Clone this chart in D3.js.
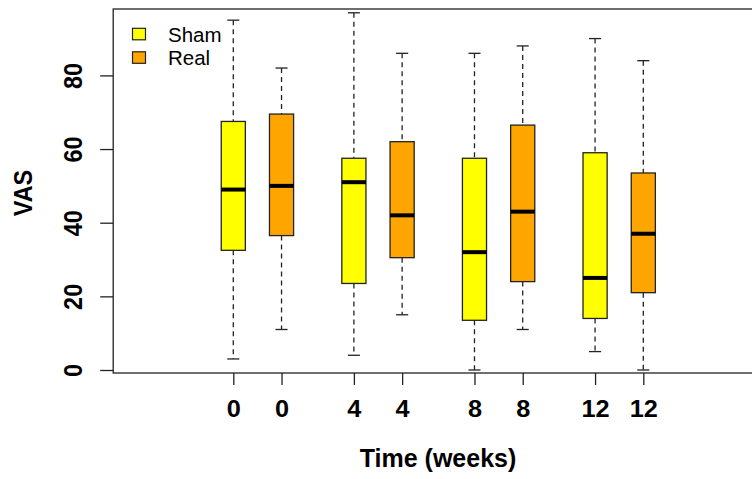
<!DOCTYPE html>
<html>
<head>
<meta charset="utf-8">
<script src="https://cdnjs.cloudflare.com/ajax/libs/d3/7.8.5/d3.min.js"></script>
<style>
  body { margin: 0; background: #fff; }
  svg { display: block; font-family: "Liberation Sans", Arial, sans-serif; }
</style>
</head>
<body>
<div id="chart"></div>
<script>
// box positions and labels
var positions = [1, 2, 3.5, 4.5, 6, 7, 8.5, 9.5];
var tickLabels = ['0', '0', '4', '4', '8', '8', '12', '12'];
var groups = ['Sham', 'Real', 'Sham', 'Real', 'Sham', 'Real', 'Sham', 'Real'];

// five-number summaries
var whiskerLow = [3, 11, 4, 15, 0, 11, 5, 0];
var q1 = [32.5, 36.5, 23.5, 30.5, 13.5, 24, 14, 21];
var median = [49, 50, 51, 42, 32, 43, 25, 37];
var q3 = [67.5, 69.5, 57.5, 62, 57.5, 66.5, 59, 53.5];
var whiskerHigh = [95, 82, 97, 86, 86, 88, 90, 84];

var yTicks = [0, 20, 40, 60, 80];
var legendNames = ['Sham', 'Real'];
var colors = { Sham: '#ffff00', Real: '#ffa500' };

var svgWidth = 752;
var svgHeight = 479;
var fontFamily = '"Liberation Sans", Arial, sans-serif';

var svg = d3.select('#chart')
    .append('svg')
    .attr('width', svgWidth)
    .attr('height', svgHeight);

var x = d3.scaleLinear()
    .domain([1, 9.5])
    .range([233.3, 643.3]);

var y = d3.scaleLinear()
    .domain([0, 80])
    .range([370, 75.4]);

var boxHalf = x(1.25) - x(1);
var capHalf = boxHalf / 2;

var plotLeft = x(-1.49);
var plotRight = x(14);
var plotTop = 9;
var plotBottom = 373;

// frame (right side runs off the page)
svg.append('rect')
    .attr('x', plotLeft)
    .attr('y', plotTop)
    .attr('width', plotRight - plotLeft)
    .attr('height', plotBottom - plotTop)
    .attr('fill', 'none')
    .attr('stroke', '#222')
    .attr('stroke-width', 1.3);

// y axis
var yAxis = svg.append('g')
    .attr('transform', `translate(${plotLeft}, 0)`)
    .call(d3.axisLeft(y).tickValues(yTicks).tickSize(13));

yAxis.attr('font-family', fontFamily);
yAxis.select('.domain').remove();
yAxis.selectAll('line').attr('stroke', '#222').attr('stroke-width', 1.3);
yAxis.selectAll('text')
    .attr('x', 0)
    .attr('y', 0)
    .attr('dy', null)
    .attr('transform', 'translate(-31, 0) rotate(-90) scale(1, 1.08)')
    .attr('text-anchor', 'middle')
    .attr('fill', '#000')
    .style('font-size', '23.5px')
    .style('font-weight', 'bold');

// x axis
var xAxis = svg.append('g')
    .attr('transform', `translate(0, ${plotBottom})`)
    .call(d3.axisBottom(x).tickValues(positions)
        .tickFormat(function(d, i) { return tickLabels[i]; })
        .tickSize(12).tickPadding(16));

xAxis.attr('font-family', fontFamily);
xAxis.select('.domain').remove();
xAxis.selectAll('line').attr('stroke', '#222').attr('stroke-width', 1.3);
xAxis.selectAll('text')
    .attr('fill', '#000')
    .attr('transform', 'scale(1.1, 1)')
    .style('font-size', '23px')
    .style('font-weight', 'bold');

// boxes
var boxes = svg.selectAll('.box')
    .data(positions)
    .enter()
    .append('g')
    .attr('class', 'box');

// whiskers
boxes.append('line')
    .attr('x1', d => x(d)).attr('x2', d => x(d))
    .attr('y1', (d, i) => y(whiskerHigh[i]))
    .attr('y2', (d, i) => y(q3[i]))
    .attr('stroke', '#222').attr('stroke-width', 1.3)
    .attr('stroke-dasharray', '5,4');

boxes.append('line')
    .attr('x1', d => x(d)).attr('x2', d => x(d))
    .attr('y1', (d, i) => y(q1[i]))
    .attr('y2', (d, i) => y(whiskerLow[i]))
    .attr('stroke', '#222').attr('stroke-width', 1.3)
    .attr('stroke-dasharray', '5,4');

// caps
boxes.append('line')
    .attr('x1', d => x(d) - capHalf).attr('x2', d => x(d) + capHalf)
    .attr('y1', (d, i) => y(whiskerHigh[i]))
    .attr('y2', (d, i) => y(whiskerHigh[i]))
    .attr('stroke', '#222').attr('stroke-width', 1.3);

boxes.append('line')
    .attr('x1', d => x(d) - capHalf).attr('x2', d => x(d) + capHalf)
    .attr('y1', (d, i) => y(whiskerLow[i]))
    .attr('y2', (d, i) => y(whiskerLow[i]))
    .attr('stroke', '#222').attr('stroke-width', 1.3);

// box body
boxes.append('rect')
    .attr('x', d => x(d) - boxHalf)
    .attr('width', boxHalf * 2)
    .attr('y', (d, i) => y(q3[i]))
    .attr('height', (d, i) => y(q1[i]) - y(q3[i]))
    .attr('fill', (d, i) => colors[groups[i]])
    .attr('stroke', '#222')
    .attr('stroke-width', 1.3);

// median
boxes.append('line')
    .attr('x1', d => x(d) - boxHalf).attr('x2', d => x(d) + boxHalf)
    .attr('y1', (d, i) => y(median[i]))
    .attr('y2', (d, i) => y(median[i]))
    .attr('stroke', '#000').attr('stroke-width', 4);

// legend
var legend = svg.selectAll('.legend')
    .data(legendNames)
    .enter()
    .append('g')
    .attr('class', 'legend')
    .attr('transform', (d, i) => `translate(0, ${i * 23.5})`);

legend.append('rect')
    .attr('x', 132.5).attr('y', 28.3)
    .attr('width', 13).attr('height', 11.5)
    .attr('fill', d => colors[d])
    .attr('stroke', '#222').attr('stroke-width', 1.2);

legend.append('text')
    .attr('x', 168).attr('y', 41.5)
    .style('font-size', '20.5px')
    .text(d => d);

// axis titles
svg.append('text')
    .attr('x', 438).attr('y', 467)
    .attr('text-anchor', 'middle')
    .style('font-size', '25px')
    .style('font-weight', 'bold')
    .text('Time (weeks)');

svg.append('text')
    .attr('transform', 'translate(32, 193) rotate(-90) scale(1, 1.1)')
    .attr('text-anchor', 'middle')
    .style('font-size', '23.5px')
    .style('font-weight', 'bold')
    .text('VAS');
</script>
</body>
</html>
